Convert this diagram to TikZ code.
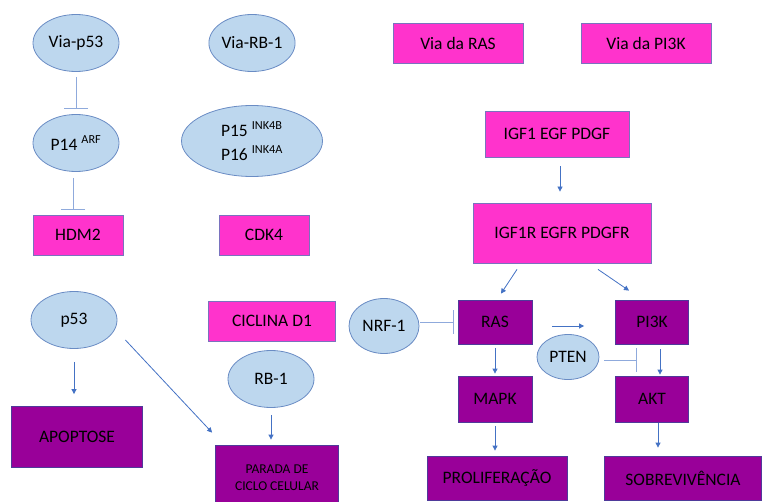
\documentclass[tikz,border=0pt]{standalone}
\usepackage{fontspec}
\setmainfont{Carlito}
\usetikzlibrary{arrows.meta,calc,shapes.geometric}

\definecolor{cellfill}{HTML}{BDD7EE}
\definecolor{celledge}{HTML}{6A8CC4}
\definecolor{pathpink}{HTML}{FF33CC}
\definecolor{pinkedge}{HTML}{7A72BE}
\definecolor{fatepurple}{HTML}{990099}
\definecolor{purpleedge}{HTML}{4F3A9A}
\definecolor{arrowblue}{HTML}{4472C4}
\definecolor{blockblue}{HTML}{8FAADC}

\begin{document}
\begin{tikzpicture}[x=1pt, y=-1pt,
  >={Triangle[length=5pt,width=5pt]},
  protein/.style={ellipse, draw=celledge, fill=cellfill, line width=0.8pt,
    inner sep=0pt, minimum width=86pt, minimum height=57pt, font=\NODEFONT},
  signal/.style={rectangle, draw=pinkedge, fill=pathpink, line width=0.8pt,
    inner sep=0pt, minimum height=40pt, font=\NODEFONT},
  fate/.style={rectangle, draw=purpleedge, fill=fatepurple, line width=0.8pt,
    inner sep=0pt, minimum height=44pt, font=\NODEFONT},
  act/.style={->, draw=arrowblue, line width=0.8pt},
  block/.style={-{Bar[width=24pt]}, draw=blockblue, line width=1pt}]

\newcommand\NODEFONT{\fontsize{17.5}{21}\selectfont}
\newcommand\SMALLFONT{\fontsize{13.5}{17}\selectfont}

\useasboundingbox (0,0) rectangle (762,502);
\clip (0,0) rectangle (762,502);

%% p53 pathway
\node[protein] (vp53) at (76,43) {Via-p53};
\node[protein] (p14) at (76,143) {P14 \textsuperscript{ARF}};
\node[signal, minimum width=90pt] (hdm2) at (78,235) {HDM2};
\node[protein] (p53) at (74,320) {p53};
\node[fate, minimum width=131pt, minimum height=61pt] (apop) at (77,437) {APOPTOSE};

\draw[block, shorten <=5pt, shorten >=5pt] (vp53) -- (p14);
\draw[block, shorten <=6pt, shorten >=5pt] ($(p14.south)+(-3,0)$) -- ($(p14.south |- hdm2.north)+(-3,0)$);
\draw[act, shorten <=13pt, shorten >=12pt] (p53) -- (p53 |- apop.north);

%% RB-1 pathway
\node[protein] (vrb) at (252,43) {Via-RB-1};
\node[protein, minimum width=141pt, minimum height=71pt, align=left] (p15) at (252,141)
{P15 \textsuperscript{INK4B}\\[3pt]P16 \textsuperscript{INK4A}};
\node[signal, minimum width=90pt] (cdk4) at (264,235) {CDK4};
\node[signal, minimum width=127pt] (cycd1) at (272,321) {CICLINA D1};
\node[protein] (rb1) at (271,379) {RB-1};
\node[fate, minimum width=123pt, minimum height=66pt, align=center, font=\SMALLFONT] (arrest) at (277,478)
{PARADA DE\\CICLO CELULAR};

\draw[act] ($(p53.east)+(8,20)$) -- ($(arrest.north west)+(-3,-12)$);
\draw[act, shorten <=7pt, shorten >=5pt] (rb1) -- (rb1 |- arrest.north);

%% RAS / PI3K pathways
\node[signal, minimum width=130pt] (vras) at (458,43) {Via da RAS};
\node[signal, minimum width=130pt] (vpi3k) at (646,43) {Via da PI3K};
\node[signal, minimum width=144pt, minimum height=46pt] (igf) at (557,134) {IGF1 EGF PDGF};
\node[signal, minimum width=178pt, minimum height=60pt] (igfr) at (562,233) {IGF1R EGFR PDGFR};
\node[protein, minimum width=70pt, minimum height=55pt] (nrf1) at (384,326) {NRF-1};
\node[fate, minimum width=74pt] (ras) at (495,322) {RAS};
\node[fate, minimum width=73pt] (pi3k) at (652,322) {PI3K};
\node[protein, minimum width=62pt, minimum height=45pt] (pten) at (568,357) {PTEN};
\node[fate, minimum width=74pt, minimum height=46pt] (mapk) at (495,399) {MAPK};
\node[fate, minimum width=73pt, minimum height=46pt] (akt) at (652,399) {AKT};
\node[fate, minimum width=140pt] (prolif) at (497,478) {PROLIFERAÇÃO};
\node[fate, minimum width=157pt] (surv) at (683,478) {SOBREVIVÊNCIA};

\draw[act, shorten <=9pt, shorten >=11pt] ($(igf.south)+(3,0)$) -- ($(igf.south |- igfr.north)+(3,0)$);
\draw[act] ($(igfr.south)+(-45,6)$) -- ($(ras.north)+(6,-6)$);
\draw[act] ($(igfr.south)+(36,6)$) -- ($(pi3k.north)+(-23,-9)$);
\draw[block, shorten <=1pt, shorten >=4pt] (nrf1.east |- ras.west) -- (ras.west);
\draw[act, shorten <=20pt, shorten >=31pt] ($(ras.east)+(0,4)$) -- ($(ras.east -| pi3k.west)+(0,4)$);
\coordinate (ptenbar) at ($(pi3k.south west)!0.5!(akt.north west)+(22,0)$);
\draw[block, shorten <=5pt] (pten.east |- ptenbar) -- (ptenbar);
\draw[act, shorten <=5pt, shorten >=1pt] ($(pi3k.south)+(8,0)$) -- ($(akt.north)+(8,0)$);
\draw[act, shorten <=4pt, shorten >=2pt] (ras) -- (mapk);
\draw[act, shorten <=4pt, shorten >=5pt] (mapk.south) -- (mapk.south |- prolif.north);
\draw[act, shorten <=1pt, shorten >=8pt] ($(akt.south)+(6,0)$) -- ($(akt.south |- surv.north)+(6,0)$);
\end{tikzpicture}
\end{document}
